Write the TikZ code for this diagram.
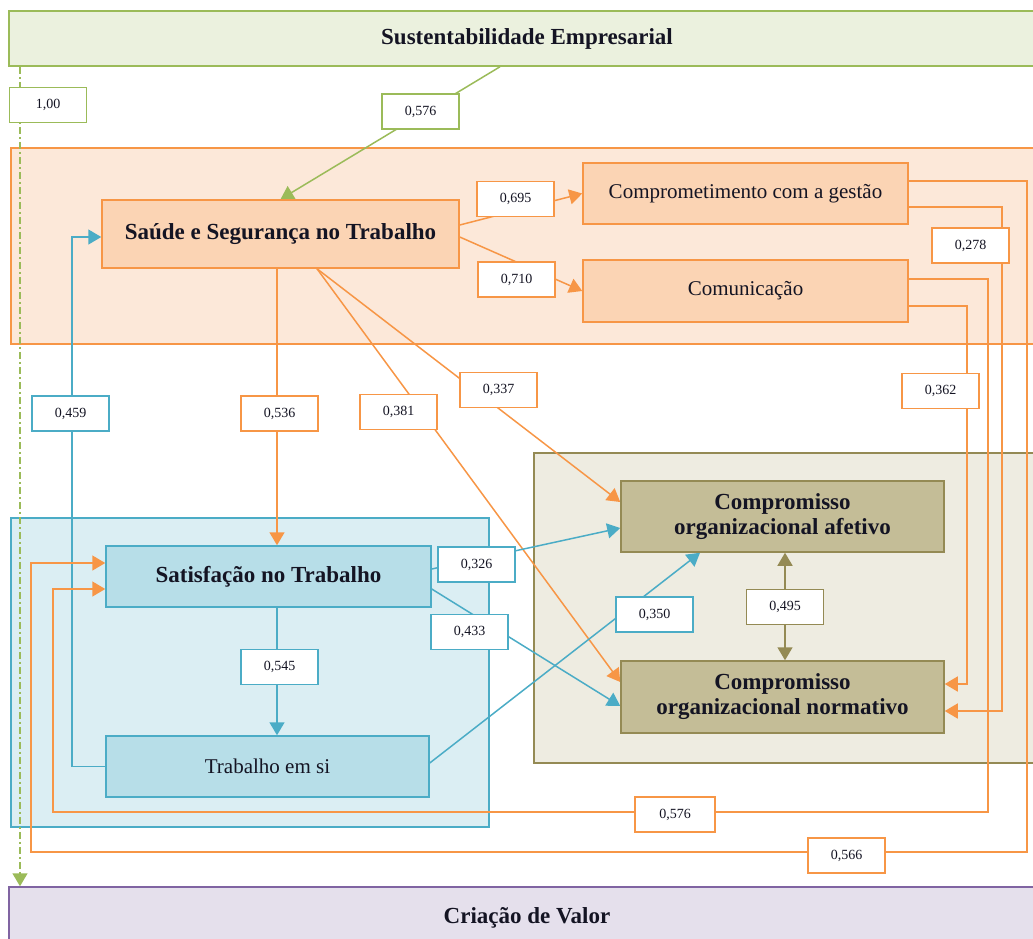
\documentclass[tikz,border=0pt]{standalone}
\usepackage{fontspec}
\setmainfont{Liberation Serif}
\usetikzlibrary{arrows.meta}

\definecolor{cOrange}{HTML}{F79646}
\definecolor{cBlue}{HTML}{4BACC6}
\definecolor{cGreen}{HTML}{9BBB59}
\definecolor{cOlive}{HTML}{948A54}
\definecolor{cPurple}{HTML}{8064A2}
\definecolor{fGreen}{HTML}{EBF1DE}
\definecolor{fOrangeBand}{HTML}{FCE8D9}
\definecolor{fOrange}{HTML}{FBD4B4}
\definecolor{fBlueBand}{HTML}{DBEEF3}
\definecolor{fBlue}{HTML}{B7DEE8}
\definecolor{fOliveBand}{HTML}{EEECE1}
\definecolor{fOlive}{HTML}{C4BD97}
\definecolor{fPurple}{HTML}{E5E0EC}
\definecolor{ink}{HTML}{141423}

\pgfdeclarelayer{bands}
\pgfdeclarelayer{links}
\pgfsetlayers{bands,links,main}

\begin{document}
\begin{tikzpicture}[x=1pt,y=-1pt,
  box/.style={draw, rectangle, line width=1.5pt, inner sep=0pt, align=center, text=ink},
  title/.style={font=\fontsize{23}{25}\selectfont\bfseries},
  plain/.style={font=\fontsize{21}{24}\selectfont},
  lbl/.style={draw, fill=white, rectangle, line width=1.6pt, minimum width=77pt,
    minimum height=35pt, inner sep=0pt, text=ink, font=\fontsize{14}{16}\selectfont},
  link/.style={line width=1.5pt},
  tipA/.tip={Triangle[length=13pt,width=15pt]},
  arr/.style={link, -tipA},
  band/.style={line width=1.5pt},
]
\useasboundingbox (0,0) rectangle (1033,938);

% background groups
\begin{pgfonlayer}{bands}
  \filldraw[band, fill=fOrangeBand, draw=cOrange] (11,148) rectangle (1045,344);
  \filldraw[band, fill=fBlueBand, draw=cBlue] (11,518) rectangle (489,827);
  \filldraw[band, fill=fOliveBand, draw=cOlive] (534,453) rectangle (1045,763);
\end{pgfonlayer}

% constructs
\node[box, title, draw=cGreen, fill=fGreen, minimum width=1036pt, minimum height=55pt]
  (sust) at (527,38.5) {Sustentabilidade Empresarial};
\node[box, title, draw=cPurple, fill=fPurple, minimum width=1036pt, minimum height=62pt]
  (crv) at (527,918) {Criação de Valor};
\node[box, title, draw=cOrange, fill=fOrange, minimum width=357pt, minimum height=68pt]
  (sst) at (280.5,234) {Saúde e Segurança no Trabalho};
\node[box, plain, draw=cOrange, fill=fOrange, minimum width=325pt, minimum height=61pt]
  (cmg) at (745.5,193.5) {Comprometimento com a gestão};
\node[box, plain, draw=cOrange, fill=fOrange, minimum width=325pt, minimum height=62pt]
  (com) at (745.5,291) {Comunicação};
\node[box, title, draw=cOlive, fill=fOlive, minimum width=323pt, minimum height=71pt]
  (coa) at (782.5,516.5) {Compromisso\\organizacional afetivo};
\node[box, title, draw=cOlive, fill=fOlive, minimum width=323pt, minimum height=72pt]
  (con) at (782.5,697) {Compromisso\\organizacional normativo};
\node[box, title, draw=cBlue, fill=fBlue, minimum width=325pt, minimum height=61pt]
  (sat) at (268.5,576.5) {Satisfação no Trabalho};
\node[box, plain, draw=cBlue, fill=fBlue, minimum width=323pt, minimum height=61pt]
  (tes) at (267.5,766.5) {Trabalho em si};

% routing guides
\coordinate (xg) at (20,0);
\coordinate (xv) at (277,0);
\coordinate (xs) at (72,0);
\coordinate (xo) at (785,0);
\coordinate (xa) at (967,0);
\coordinate (xb) at (988,0);
\coordinate (xc) at (1002,0);
\coordinate (xd) at (1027,0);
\coordinate (xe) at (53,0);
\coordinate (xf) at (31,0);
\coordinate (yb) at (0,812);
\coordinate (yd) at (0,852);
\coordinate (sstin) at ([yshift=-3pt]sst.west);
\coordinate (comA) at ([yshift=-15pt]com.east);
\coordinate (conA) at ([yshift=13pt]con.east);
\coordinate (cmgB) at ([yshift=-13.5pt]cmg.east);
\coordinate (conB) at ([yshift=-14pt]con.east);
\coordinate (comC) at ([yshift=12pt]com.east);
\coordinate (satC) at ([yshift=-12.5pt]sat.west);
\coordinate (cmgD) at ([yshift=12.5pt]cmg.east);
\coordinate (satD) at ([yshift=13.5pt]sat.west);

\begin{pgfonlayer}{links}
  % sustainability paths
  \draw[arr, cGreen] ([xshift=-27pt]sust.south) -- (sst.north);
  \draw[link, cGreen, dash pattern=on 7pt off 3pt on 2pt off 3pt, -tipA]
    (sust.south -| xg) -- (crv.north -| xg);
  % health and safety paths
  \draw[arr, cOrange] ([yshift=9pt]sst.east) -- (cmg.west);
  \draw[arr, cOrange] ([yshift=-3pt]sst.east) -- (com.west);
  \draw[arr, cOrange] (sst.south -| xv) -- (sat.north -| xv);
  \draw[arr, cOrange] ([xshift=36.5pt]sst.south) -- ([yshift=15pt]con.west);
  \draw[arr, cOrange] ([xshift=36.5pt]sst.south) -- ([yshift=14.5pt]coa.west);
  % satisfaction paths
  \draw[arr, cBlue] (sat.south -| xv) -- (tes.north -| xv);
  \draw[arr, cBlue] ([yshift=7.5pt]sat.east) -- ([yshift=-11.5pt]coa.west);
  \draw[arr, cBlue] ([yshift=-12.5pt]sat.east) -- ([yshift=-9pt]con.west);
  \draw[arr, cBlue] ([yshift=3.5pt]tes.east) -- ([xshift=-82.5pt]coa.south);
  \draw[arr, cBlue] (tes.west) -- (tes.west -| xs) -- (sstin -| xs) -- (sstin);
  % commitment correlation
  \draw[link, cOlive, tipA-tipA] (coa.south -| xo) -- (con.north -| xo);
  % management and communication paths
  \draw[arr, cOrange] (comA) -- (comA -| xa) -- (conA -| xa) -- (conA);
  \draw[arr, cOrange] (cmgB) -- (cmgB -| xc) -- (conB -| xc) -- (conB);
  \draw[arr, cOrange] (comC) -- (comC -| xb) -- (yb -| xb) -- (yb -| xe)
    -- (satC -| xe) -- (satC);
  \draw[arr, cOrange] (cmgD) -- (cmgD -| xd) -- (yd -| xd) -- (yd -| xf)
    -- (satD -| xf) -- (satD);
\end{pgfonlayer}

% path coefficients
\node[lbl, draw=cGreen] (l100) at (48,105) {1,00};
\node[lbl, draw=cGreen] (l576a) at (420.5,111.5) {0,576};
\node[lbl, draw=cOrange] (l695) at (515.5,199) {0,695};
\node[lbl, draw=cOrange] (l710) at (516.5,279.5) {0,710};
\node[lbl, draw=cOrange] (l278) at (970.5,245.5) {0,278};
\node[lbl, draw=cOrange] (l362) at (940.5,391) {0,362};
\node[lbl, draw=cBlue] (l459) at (70.5,413.5) {0,459};
\node[lbl, draw=cOrange] (l536) at (279.5,413.5) {0,536};
\node[lbl, draw=cOrange] (l381) at (398.5,412) {0,381};
\node[lbl, draw=cOrange] (l337) at (498.5,390) {0,337};
\node[lbl, draw=cBlue] (l326) at (476.5,564.5) {0,326};
\node[lbl, draw=cBlue] (l433) at (469.5,632) {0,433};
\node[lbl, draw=cBlue] (l545) at (279.5,667) {0,545};
\node[lbl, draw=cBlue] (l350) at (654.5,614.5) {0,350};
\node[lbl, draw=cOlive] (l495) at (785,607) {0,495};
\node[lbl, draw=cOrange, minimum width=80pt] (l576b) at (675,814.5) {0,576};
\node[lbl, draw=cOrange] (l566) at (846.5,855.5) {0,566};
\end{tikzpicture}
\end{document}
